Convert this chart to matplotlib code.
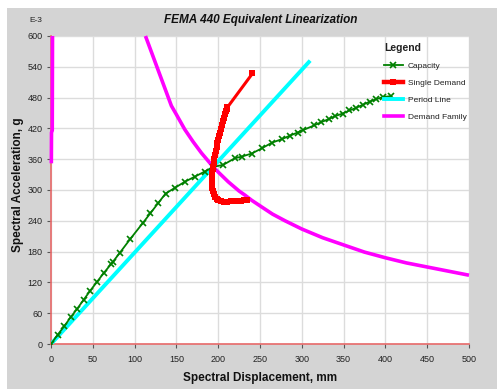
import matplotlib
matplotlib.use("Agg")
import matplotlib.pyplot as plt
from matplotlib.patches import Rectangle
from matplotlib.lines import Line2D

# ---- data ----
cap_d = [0, 8, 16, 23.5, 31.5, 39, 47, 55, 63, 72, 74, 82, 95, 110, 119, 128, 137, 148, 160, 172, 184,
         194, 206, 220, 228, 240, 252, 264, 276, 286, 295, 302, 315, 323, 332, 340, 349, 357, 365, 373,
         381, 389, 397, 407]
cap_a = [0, 18, 35, 52, 69, 86, 104, 121, 138, 156, 160, 177, 205, 236, 255, 274, 293, 304, 316, 326, 336,
         345, 349, 362, 365, 371, 381, 392, 399, 406, 412, 417, 426, 432, 438, 444, 449, 455, 460, 466,
         472, 477, 481, 483]

sd_d = [234, 231, 227, 223, 219, 215, 211, 207, 203, 200, 198, 196, 194.5, 193.5, 193, 192.5, 192.2,
        192.2, 192.5, 193, 193.5, 194, 194.5, 195, 196, 197, 198, 199, 200, 201, 202, 203, 204.5, 206,
        207, 208, 209, 210, 211, 241]
sd_a = [280.5, 280, 279.5, 279, 278.5, 278, 277.5, 277.5, 278.5, 280, 283, 287, 292, 298, 304, 310, 316,
        322, 328, 334, 340, 345, 352, 360, 368, 376, 384, 392, 398, 405, 412, 418, 426, 434, 441, 448,
        453, 458, 461, 527]

per_d = [0, 310]
per_a = [0, 552]

dem_d = [0.4, 0.6, 1.5, 1.8, None, 113, 144, 150, 160, 170, 180, 194, 200, 212, 225, 232, 240, 252, 265,
         280, 300, 325, 350, 375, 400, 425, 450, 475, 500]
dem_a = [352, 412, 416, 600, None, 600, 464, 447, 418, 394, 372, 345, 335, 316, 298, 290, 280, 267, 253,
         240, 224, 207, 193, 179, 168, 158, 150, 142, 134]

x_ticks = [0, 50, 100, 150, 200, 250, 300, 350, 400, 450, 500]
y_ticks = [0, 60, 120, 180, 240, 300, 360, 420, 480, 540, 600]

title = "FEMA 440 Equivalent Linearization"
xlabel = "Spectral Displacement, mm"
ylabel = "Spectral Acceleration, g"
legend_labels = ["Capacity", "Single Demand", "Period Line", "Demand Family"]

# ---- figure ----
W, H = 497, 389
fig = plt.figure(figsize=(W / 100, H / 100), dpi=100)
fig.patch.set_facecolor("white")
bg = Rectangle((7 / W, 0), 1 - 7 / W, 1 - 8 / H, transform=fig.transFigure,
               facecolor="#d4d4d4", edgecolor="none", zorder=-10)
fig.add_artist(bg)

fam = ["Liberation Sans Narrow", "Liberation Sans", "DejaVu Sans"]

ax = fig.add_axes([51 / W, (H - 344) / H, (469 - 51) / W, (344 - 36) / H])
ax.set_zorder(1)
ax.set_facecolor("white")
ax.set_xlim(0, 500)
ax.set_ylim(0, 600)
ax.set_xticks(x_ticks)
ax.set_yticks(y_ticks)
ax.grid(True, color="#dcdcdc", lw=1)
ax.set_axisbelow(True)
for s in ["top", "right"]:
    ax.spines[s].set_visible(False)
for s in ["left", "bottom"]:
    ax.spines[s].set_color("#e86a6a")
    ax.spines[s].set_linewidth(1.2)
ax.tick_params(axis="both", length=3, width=0.8, color="#555555", labelsize=6.5,
               labelcolor="#222222")
ax.tick_params(axis="x", pad=5)
ax.tick_params(axis="y", pad=3)
for lab in ax.get_xticklabels() + ax.get_yticklabels():
    lab.set_family(fam)

dem_x = [float("nan") if v is None else v for v in dem_d]
dem_y = [float("nan") if v is None else v for v in dem_a]

ax.plot(dem_x, dem_y, color="#ff00ff", lw=2.6, solid_capstyle="butt", zorder=3, clip_on=False)
ax.plot(per_d, per_a, color="#00ffff", lw=2.8, solid_capstyle="butt", zorder=3)
ax.plot(cap_d, cap_a, color="#008000", lw=1.3, marker="x", ms=4.5, mew=1.2, zorder=4)
ax.plot(sd_d, sd_a, color="#ff0000", lw=2.2, marker="s", ms=4, mew=0, zorder=5)

fig.text(0.524, 1 - 20 / H, title, ha="center", va="center", fontsize=8.5,
         fontweight="bold", fontstyle="italic", family=fam, color="#111111")
fig.text(36 / W, 1 - 20 / H, "E-3", ha="center", va="center", fontsize=6, family=fam,
         color="#222222")
fig.text(260 / W, 1 - 378 / H, xlabel, ha="center", va="center", fontsize=8.5,
         fontweight="bold", family=fam, color="#111111")
fig.text(18 / W, 1 - 185 / H, ylabel, ha="center", va="center", fontsize=8.5, rotation=90,
         fontweight="bold", family=fam, color="#111111")

handles = [
    Line2D([], [], color="#008000", lw=1.3, marker="x", ms=4.5, mew=1.2),
    Line2D([], [], color="#ff0000", lw=3.2, marker="s", ms=4.5, mew=0),
    Line2D([], [], color="#00ffff", lw=2.8),
    Line2D([], [], color="#ff00ff", lw=2.6),
]
leg = ax.legend(handles, legend_labels, loc="upper left", bbox_to_anchor=(378 / W, 1 - 37 / H),
                bbox_transform=fig.transFigure, frameon=False, fontsize=6,
                handlelength=2.3, handletextpad=0.6, labelspacing=1.1, borderpad=0.2,
                title="Legend", title_fontproperties={"size": 7.5, "weight": "bold", "family": fam},
                markerfirst=True)
leg._legend_box.align = "left"
for t in leg.get_texts():
    t.set_family(fam)
    t.set_color("#222222")
leg.get_title().set_color("#222222")

fig.savefig("out.png", dpi=100, facecolor=fig.get_facecolor())
